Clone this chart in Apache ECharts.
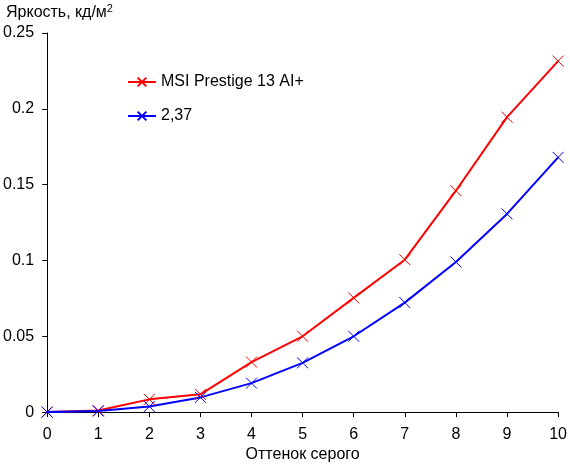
<!DOCTYPE html>
<html>
<head>
<meta charset="utf-8">
<script src="https://cdn.jsdelivr.net/npm/echarts@6/dist/echarts.min.js"></script>
<style>
  html, body { margin: 0; padding: 0; background: #fff; }
  #chart { width: 570px; height: 468px; }
</style>
</head>
<body>
<div id="chart"></div>
<script>
// Gray level vs. luminance, measured panel against a 2.37 gamma curve.
const grayLevels = [0, 1, 2, 3, 4, 5, 6, 7, 8, 9, 10];
const msiValues = [0, 0.001, 0.0084, 0.0117, 0.033, 0.05, 0.0753, 0.1005, 0.146, 0.1945, 0.2315];
const gammaValues = [0, 0.0007, 0.0037, 0.0097, 0.0191, 0.0325, 0.050, 0.0722, 0.099, 0.1307, 0.168];
const yTicks = [0, 0.05, 0.1, 0.15, 0.2, 0.25];

const CROSS = 'path://M0,0L10,10M10,0L0,10';
const FONT = 'Liberation Sans, Arial, sans-serif';

function pairs(vals) {
  return grayLevels.map((x, i) => [x, vals[i]]);
}

function lineSeries(name, vals, color) {
  return {
    name: name,
    type: 'line',
    data: pairs(vals),
    symbol: CROSS,
    symbolSize: 11,
    showAllSymbol: true,
    lineStyle: { color: color, width: 2 },
    itemStyle: { color: 'none', borderColor: color, borderWidth: 1 },
    emphasis: { disabled: true },
  };
}

const chart = echarts.init(document.getElementById('chart'), null, { renderer: 'canvas' });
chart.setOption({
  animation: false,
  backgroundColor: '#fff',
  textStyle: { fontFamily: FONT },
  grid: { left: 43, right: 7, top: 33, bottom: 50, containLabel: false },
  legend: {
    orient: 'vertical',
    left: 127,
    top: 74,
    padding: 0,
    itemWidth: 28,
    itemHeight: 11,
    itemGap: 18,
    textStyle: { fontFamily: FONT, fontSize: 16, color: '#000' },
    data: ['MSI Prestige 13 AI+', '2,37'],
  },
  xAxis: {
    type: 'value',
    min: 0,
    max: 10,
    interval: 1,
    name: 'Оттенок серого',
    nameLocation: 'middle',
    nameGap: 34,
    nameTextStyle: { fontFamily: FONT, fontSize: 16, color: '#000' },
    axisLine: { show: true, onZero: false, lineStyle: { color: '#000', width: 1 } },
    axisTick: { show: true, length: 5, lineStyle: { color: '#000' } },
    axisLabel: { color: '#000', fontSize: 16, margin: 14, fontFamily: FONT },
    splitLine: { show: false },
  },
  yAxis: {
    type: 'value',
    min: 0,
    max: 0.25,
    interval: 0.05,
    axisLine: { show: true, lineStyle: { color: '#000', width: 1 } },
    axisTick: { show: true, length: 5, lineStyle: { color: '#000' } },
    axisLabel: {
      color: '#000', fontSize: 16, margin: 13, fontFamily: FONT,
      formatter: (v) => String(yTicks.find((t) => Math.abs(t - v) < 1e-9) ?? v),
    },
    splitLine: { show: false },
  },
  graphic: [
    {
      type: 'text',
      left: 6,
      top: 3,
      style: {
        text: '{a|Яркость, кд/м}{sup|2}',
        fill: '#000',
        rich: {
          a: { fontFamily: FONT, fontSize: 16, fill: '#000' },
          sup: { fontFamily: FONT, fontSize: 11, fill: '#000', padding: [0, 0, 9, 0] },
        },
      },
    },
  ],
  series: [
    lineSeries('MSI Prestige 13 AI+', msiValues, '#ff0000'),
    lineSeries('2,37', gammaValues, '#0000ff'),
  ],
});
</script>
</body>
</html>
